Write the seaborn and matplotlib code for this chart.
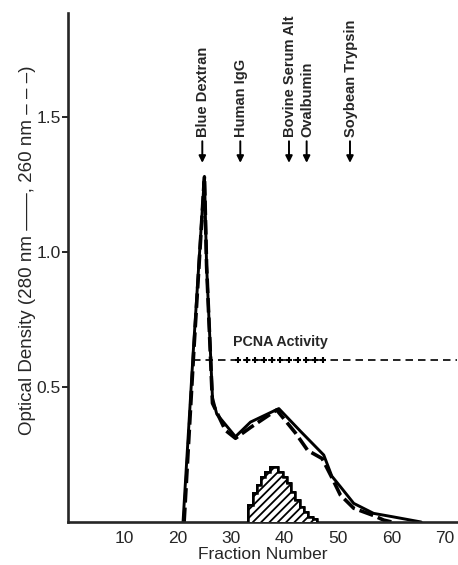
import numpy as np
import pandas as pd
import matplotlib
matplotlib.use("Agg")
import matplotlib.pyplot as plt
import seaborn as sns

# ---------------- data ----------------
frac_280 = [21.0, 23.0, 25.0, 25.4, 26.5, 27.3, 30.8, 33.6, 38.9, 43.0, 47.3, 48.8, 50.4, 52.9, 56.6, 60.0, 65.5]
od_280 = [0.0, 0.66, 1.28, 0.95, 0.46, 0.40, 0.316, 0.37, 0.42, 0.335, 0.248, 0.17, 0.131, 0.069, 0.032, 0.02, 0.0]

frac_260 = [21.2, 23.0, 25.0, 25.4, 26.5, 28.9, 30.8, 33.6, 38.5, 42.0, 44.3, 47.0, 48.8, 50.4, 52.9, 56.6, 58.5, 60.0]
od_260 = [0.0, 0.63, 1.28, 0.95, 0.44, 0.34, 0.31, 0.35, 0.415, 0.33, 0.265, 0.235, 0.165, 0.10, 0.051, 0.024, 0.007, 0.0]

activity_edges = [33.2, 34.0, 34.8, 35.6, 36.4, 37.2, 38.0, 38.8, 39.6, 40.4, 41.2, 42.0, 42.8, 43.6, 44.4, 45.2, 46.0]
activity_heights = [0.063, 0.106, 0.137, 0.168, 0.185, 0.205, 0.205, 0.185, 0.168, 0.143, 0.112, 0.081, 0.057, 0.038, 0.02, 0.01]

pcna_level = 0.6
pcna_start = 22.8
pcna_plus_frac = [31.3, 32.9, 34.5, 36.1, 37.7, 39.2, 40.8, 42.4, 44.0, 45.6, 47.1]

marker_names = ["Blue Dextran", "Human IgG", "Bovine Serum Alt", "Ovalbumin", "Soybean Trypsin"]
marker_frac = [24.6, 31.7, 40.8, 44.1, 52.2]

x_ticks = [10, 20, 30, 40, 50, 60, 70]
y_ticks = [0.5, 1.0, 1.5]
y_tick_labels = ["0.5", "1.0", "1.5"]

# ---------------- style ----------------
sns.set_style("ticks")
plt.rcParams["font.family"] = ["Liberation Sans", "DejaVu Sans"]
plt.rcParams["hatch.linewidth"] = 1.3

fig = plt.figure(figsize=(4.58, 5.65), dpi=100)
ax = fig.add_axes([68 / 458, 43 / 565, 389 / 458, 509 / 565])

xmax = 72.2
ax.set_xlim(-0.5, xmax)
ax.set_ylim(0, 1.885)

# absorbance curves
df280 = pd.DataFrame({"fraction": frac_280, "od": od_280})
df260 = pd.DataFrame({"fraction": frac_260, "od": od_260})
sns.lineplot(data=df280, x="fraction", y="od", ax=ax, color="black", lw=2.1,
             sort=False, estimator=None)
sns.lineplot(data=df260, x="fraction", y="od", ax=ax, color="black", lw=2.6,
             sort=False, estimator=None, linestyle=(0, (4.0, 1.4)))

# hatched activity histogram
ax.stairs(activity_heights, activity_edges, fill=True, facecolor="white",
          edgecolor="black", hatch="////", lw=1.4, zorder=3)
ax.stairs(activity_heights, activity_edges, fill=False, edgecolor="black",
          lw=1.8, zorder=4)

# PCNA activity line
ax.plot([pcna_start, xmax], [pcna_level, pcna_level], color="black", lw=1.2,
        linestyle=(0, (4.5, 3)), zorder=2)
ax.scatter(pcna_plus_frac, [pcna_level] * len(pcna_plus_frac), marker="+",
           s=24, color="black", linewidths=1.5, zorder=5)
ax.text(30.4, pcna_level + 0.067, "PCNA Activity", fontsize=10.3, fontweight="bold",
        ha="left", va="center")

# marker arrows & labels
for name, f in zip(marker_names, marker_frac):
    ax.annotate("", xy=(f, 1.33), xytext=(f, 1.41),
                arrowprops=dict(arrowstyle="-|>", color="black", lw=1.4,
                                mutation_scale=10, shrinkA=0, shrinkB=0))
    ax.text(f + 0.2, 1.425, name, rotation=90, ha="center", va="bottom",
            fontsize=10.5, fontweight="bold")

# axes styling
sns.despine(ax=ax)
ax.spines["left"].set_linewidth(1.9)
ax.spines["bottom"].set_linewidth(1.9)
ax.set_xticks(x_ticks)
ax.set_yticks(y_ticks)
ax.set_yticklabels(y_tick_labels)
ax.tick_params(axis="x", length=0, pad=6.5, labelsize=12.5)
ax.tick_params(axis="y", length=4, width=1.4, pad=1, labelsize=12.5)

ax.set_xlabel("Fraction Number", fontsize=12.5, labelpad=1)
ax.set_ylabel("Optical Density (280 nm ——, 260 nm – – –)", fontsize=13.5)
ax.yaxis.set_label_coords(-0.082, 0.534)

fig.savefig("out.png", dpi=100)
